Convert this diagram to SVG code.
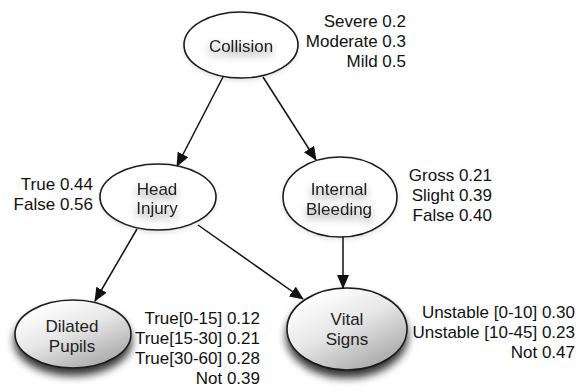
<svg xmlns="http://www.w3.org/2000/svg" width="579" height="391" viewBox="0 0 579 391">
  <style>
    .node { fill: #ffffff; stroke: #1a1a1a; stroke-width: 1.6; }
    .shade { fill: url(#shadeFill); stroke: #1a1a1a; stroke-width: 1.6; }
    .name { font-family: "Liberation Sans", Arial, Helvetica, sans-serif; font-size: 17px; fill: #222222; text-anchor: middle; }
    .prob { font-family: "Liberation Sans", Arial, Helvetica, sans-serif; font-size: 17px; fill: #111111; text-anchor: end; }
    .edge { stroke: #111111; stroke-width: 1.5; fill: none; marker-end: url(#arrow); }
  </style>
  <defs>
    <marker id="arrow" markerUnits="userSpaceOnUse" markerWidth="14" markerHeight="12" viewBox="0 0 14 12" refX="13" refY="6" orient="auto">
      <path d="M0,0 L14,6 L0,12 Z" fill="#111111"/>
    </marker>
    <linearGradient id="shadeFill" x1="0.2" y1="0.1" x2="0.8" y2="0.95">
      <stop offset="0" stop-color="#ffffff"/>
      <stop offset="0.45" stop-color="#e6e6e6"/>
      <stop offset="1" stop-color="#a8a8a8"/>
    </linearGradient>
    <filter id="drop" x="-30%" y="-30%" width="160%" height="180%">
      <feGaussianBlur in="SourceAlpha" stdDeviation="4"/>
      <feOffset dx="0" dy="7" result="b"/>
      <feComponentTransfer><feFuncA type="linear" slope="0.8"/></feComponentTransfer>
      <feMerge><feMergeNode/><feMergeNode in="SourceGraphic"/></feMerge>
    </filter>
    <filter id="soft" x="-20%" y="-20%" width="140%" height="150%">
      <feGaussianBlur in="SourceAlpha" stdDeviation="2.5"/>
      <feOffset dx="0" dy="2"/>
      <feComponentTransfer><feFuncA type="linear" slope="0.12"/></feComponentTransfer>
      <feMerge><feMergeNode/><feMergeNode in="SourceGraphic"/></feMerge>
    </filter>
    <filter id="glow" x="-40%" y="-60%" width="180%" height="240%">
      <feGaussianBlur in="SourceAlpha" stdDeviation="4"/>
      <feOffset dx="0" dy="4"/>
      <feComponentTransfer><feFuncA type="linear" slope="0.5"/></feComponentTransfer>
      <feMerge><feMergeNode/><feMergeNode in="SourceGraphic"/></feMerge>
    </filter>
  </defs>

  <rect width="579" height="391" fill="#ffffff"/>

  <!-- connectors -->
  <g id="edges">
    <line class="edge" x1="223" y1="77" x2="177" y2="166"/>
    <line class="edge" x1="263" y1="77" x2="316" y2="160"/>
    <line class="edge" x1="137" y1="229" x2="95" y2="301"/>
    <line class="edge" x1="198" y1="225" x2="303" y2="299"/>
    <line class="edge" x1="343" y1="237" x2="343" y2="288"/>
  </g>

  <!-- nodes -->
  <g id="collision">
    <ellipse class="node" cx="241" cy="45" rx="57" ry="33" filter="url(#soft)"/>
    <text class="name" x="241" y="52" filter="url(#glow)">Collision</text>
    <text class="prob" x="406" y="27">Severe 0.2</text>
    <text class="prob" x="406" y="47">Moderate 0.3</text>
    <text class="prob" x="406" y="67">Mild 0.5</text>
  </g>

  <g id="head-injury">
    <ellipse class="node" cx="158" cy="197" rx="58" ry="33" filter="url(#soft)"/>
    <text class="name" x="157" y="195" filter="url(#glow)">Head</text>
    <text class="name" x="157" y="214" filter="url(#glow)">Injury</text>
    <text class="prob" x="93" y="190">True 0.44</text>
    <text class="prob" x="93" y="210">False 0.56</text>
  </g>

  <g id="internal-bleeding">
    <ellipse class="node" cx="340" cy="197" rx="57" ry="40" filter="url(#soft)"/>
    <text class="name" x="339" y="195" filter="url(#glow)">Internal</text>
    <text class="name" x="339" y="215" filter="url(#glow)">Bleeding</text>
    <text class="prob" x="492" y="181">Gross 0.21</text>
    <text class="prob" x="492" y="201">Slight 0.39</text>
    <text class="prob" x="492" y="221">False 0.40</text>
  </g>

  <g id="dilated-pupils">
    <ellipse class="shade" cx="73" cy="334" rx="58" ry="34" filter="url(#drop)"/>
    <text class="name" x="72" y="332">Dilated</text>
    <text class="name" x="72" y="352">Pupils</text>
    <text class="prob" x="260" y="324">True[0-15] 0.12</text>
    <text class="prob" x="260" y="344">True[15-30] 0.21</text>
    <text class="prob" x="260" y="364">True[30-60] 0.28</text>
    <text class="prob" x="260" y="384">Not 0.39</text>
  </g>

  <g id="vital-signs">
    <ellipse class="shade" cx="347" cy="329" rx="60" ry="41" filter="url(#drop)"/>
    <text class="name" x="347" y="325">Vital</text>
    <text class="name" x="347" y="345">Signs</text>
    <text class="prob" x="575" y="318">Unstable [0-10] 0.30</text>
    <text class="prob" x="575" y="338">Unstable [10-45] 0.23</text>
    <text class="prob" x="575" y="358">Not 0.47</text>
  </g>
</svg>
